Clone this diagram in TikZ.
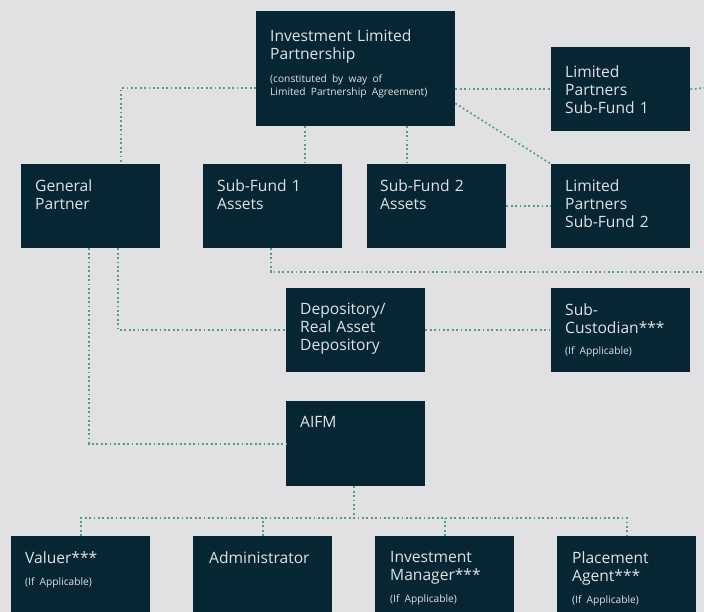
\documentclass[tikz,border=0pt]{standalone}
\usepackage{fontspec}
\setmainfont{Open Sans}
\definecolor{paper}{HTML}{E1E1E3}
\definecolor{navy}{HTML}{062634}
\definecolor{pale}{HTML}{E0E3E4}
\definecolor{dots}{HTML}{4E9F84}
\newcommand{\smallnote}[1]{{\fontsize{10.2}{13}\selectfont #1\par}}
\tikzset{
  unit/.style={rectangle,fill=navy,anchor=north west,inner sep=0pt,minimum width=139pt,minimum height=84pt},
  txt/.style={anchor=north west,inner sep=0pt,text=pale,align=left,text width=128pt,font=\fontsize{15.6}{18}\selectfont},
  link/.style={draw=dots,line width=1.7pt,dash pattern=on 1.8pt off 2.6pt},
}
\begin{document}
\begin{tikzpicture}[x=1pt,y=-1pt]
    \fill[paper] (0,0) rectangle (704,612);
    \useasboundingbox (0,0) rectangle (704,612);
    \coordinate (east1) at (704,88);
    \coordinate (east2) at (704,272);
    \coordinate (bus) at (0,518);
    \begin{scope}
      \clip (0,0) rectangle (704,612);
      \node[unit,minimum width=199pt,minimum height=115pt] (ilp) at (256,11) {};
      \node[unit] (lp1) at (551,47) {};
      \node[unit] (gp) at (21,164) {};
      \node[unit] (sf1) at (203,164) {};
      \node[unit] (sf2) at (367,164) {};
      \node[unit] (lp2) at (551,164) {};
      \node[unit] (dep) at (286,288) {};
      \node[unit] (sub) at (551,288) {};
      \node[unit,minimum height=85pt] (aifm) at (286,401) {};
      \node[unit,minimum height=90pt] (val) at (11,536) {};
      \node[unit,minimum height=90pt] (adm) at (193,536) {};
      \node[unit,minimum height=90pt] (im) at (375,536) {};
      \node[unit,minimum height=90pt] (pa) at (557,536) {};
    \end{scope}
    \node[txt,text width=180pt] (ilp-t) at ([shift={(14,18)}]ilp.north west)
      {Investment Limited\\Partnership\par\vspace{10pt}\smallnote{(constituted by way of\\Limited Partnership Agreement)}};
    \node[txt] (lp1-t) at ([shift={(14,18)}]lp1.north west) {Limited\\Partners\\Sub-Fund 1};
    \node[txt] (gp-t) at ([shift={(14,15)}]gp.north west) {General\\Partner};
    \node[txt] (sf1-t) at ([shift={(14,15)}]sf1.north west) {Sub-Fund 1\\Assets};
    \node[txt] (sf2-t) at ([shift={(13,15)}]sf2.north west) {Sub-Fund 2\\Assets};
    \node[txt] (lp2-t) at ([shift={(14,15)}]lp2.north west) {Limited\\Partners\\Sub-Fund 2};
    \node[txt] (dep-t) at ([shift={(14,15)}]dep.north west) {Depository/\\Real Asset\\Depository};
    \node[txt] (sub-t) at ([shift={(14,15)}]sub.north west) {Sub-\\Custodian***\par\vspace{8pt}\smallnote{(If Applicable)}};
    \node[txt] (aifm-t) at ([shift={(14,15)}]aifm.north west) {AIFM};
    \node[txt] (val-t) at ([shift={(14,15)}]val.north west) {Valuer***\par\vspace{9pt}\smallnote{(If Applicable)}};
    \node[txt] (adm-t) at ([shift={(16,15)}]adm.north west) {Administrator};
    \node[txt] (im-t) at ([shift={(15,15)}]im.north west) {Investment\\Manager***\par\vspace{9pt}\smallnote{(If Applicable)}};
    \node[txt] (pa-t) at ([shift={(15,15)}]pa.north west) {Placement\\Agent***\par\vspace{9pt}\smallnote{(If Applicable)}};
    % partnership links
    \draw[link] (ilp.west |- east1) -| ([xshift=30.5pt]gp.north);
    \draw[link] (ilp.east |- lp1.west) -- (lp1.west);
    \draw[link] (lp1.east) -- (east1);
    \draw[link] ([yshift=23pt]ilp.south east) -- (lp2.north west);
    \draw[link] ([xshift=-51pt]ilp.south) coordinate (d1) -- (d1 |- sf1.north);
    \draw[link] ([xshift=51pt]ilp.south) coordinate (d2) -- (d2 |- sf2.north);
    \draw[link] (sf2.east) -- (sf2.east -| lp2.west);
    \draw[link] ([xshift=-2pt]sf1.south) |- (east2);
    % service providers
    \draw[link] ([xshift=27.5pt]gp.south) |- (dep.west);
    \draw[link] ([xshift=-1.5pt]gp.south) |- (aifm.west);
    \draw[link] (dep.east) -- (sub.west);
    \draw[link] ([xshift=-2pt]aifm.south) coordinate (d3) -- (d3 |- bus);
    \draw[link] (val.north) |- (bus -| pa.north) -- (pa.north);
    \foreach \n in {adm,im}
      \draw[link] (\n.north) -- (\n.north |- bus);
\end{tikzpicture}
\end{document}
